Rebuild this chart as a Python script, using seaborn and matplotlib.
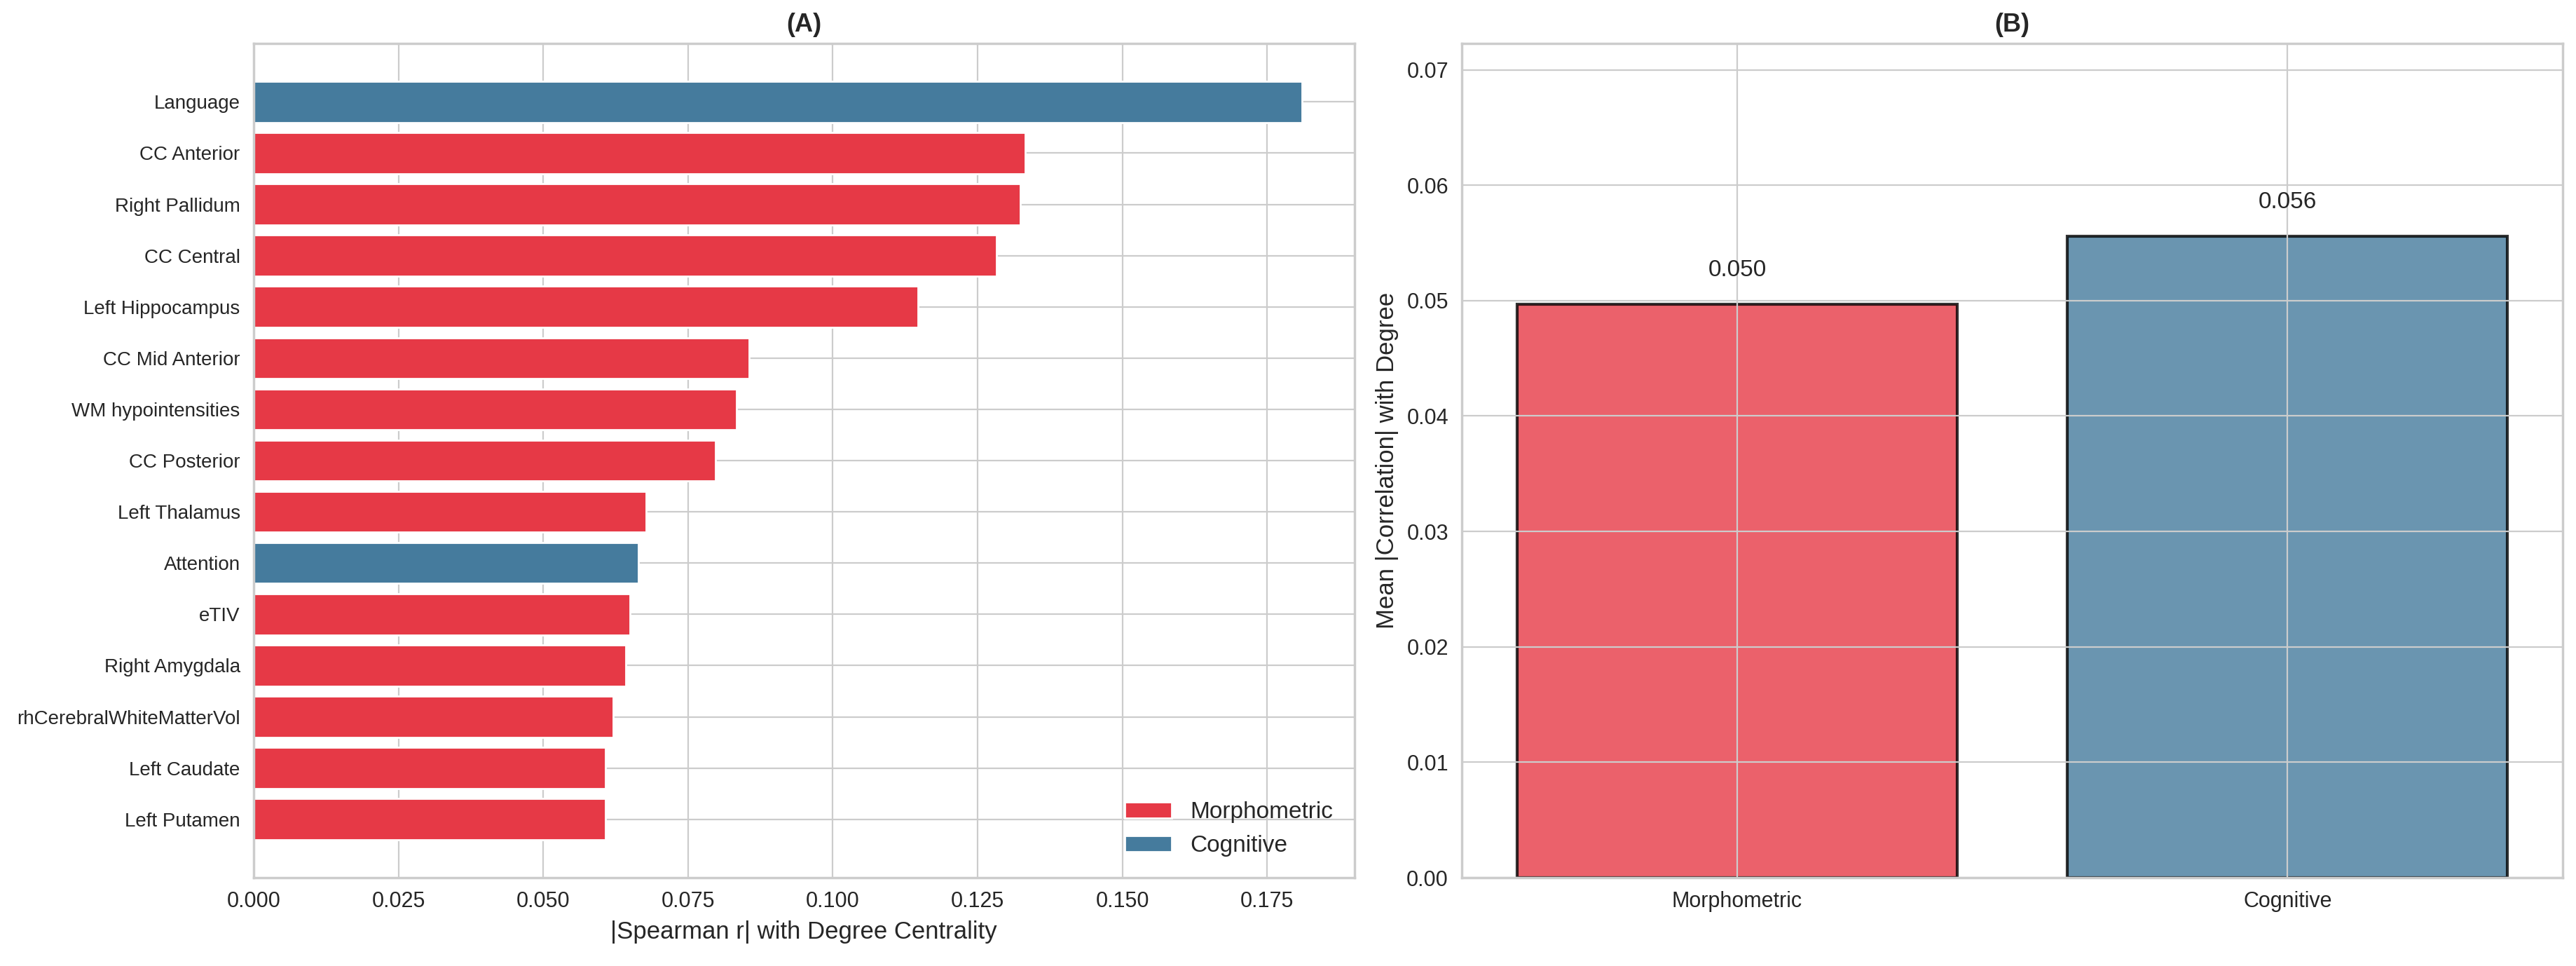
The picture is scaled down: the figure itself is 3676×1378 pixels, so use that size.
import matplotlib
matplotlib.use("Agg")
import matplotlib.pyplot as plt
import numpy as np
import pandas as pd
import seaborn as sns

# Panel A: top features by |Spearman r| with degree centrality
features = [
    "Language", "CC Anterior", "Right Pallidum", "CC Central", "Left Hippocampus",
    "CC Mid Anterior", "WM hypointensities", "CC Posterior", "Left Thalamus",
    "Attention", "eTIV", "Right Amygdala", "rhCerebralWhiteMatterVol",
    "Left Caudate", "Left Putamen",
]
abs_r = [
    0.1810, 0.1332, 0.1324, 0.1283, 0.1147,
    0.0856, 0.0834, 0.0797, 0.0677,
    0.0664, 0.0650, 0.0643, 0.0621,
    0.0608, 0.0608,
]
feature_type = [
    "Cognitive", "Morphometric", "Morphometric", "Morphometric", "Morphometric",
    "Morphometric", "Morphometric", "Morphometric", "Morphometric",
    "Cognitive", "Morphometric", "Morphometric", "Morphometric",
    "Morphometric", "Morphometric",
]

# Panel B: mean |correlation| per group
groups = ["Morphometric", "Cognitive"]
group_means = [0.0497, 0.0556]

colors = {"Morphometric": "#E63946", "Cognitive": "#457B9D"}

sns.set_style("whitegrid")
plt.rcParams["font.family"] = ["Liberation Sans", "DejaVu Sans"]
plt.rcParams["axes.edgecolor"] = "#cccccc"
plt.rcParams["grid.color"] = "#cccccc"
plt.rcParams["axes.linewidth"] = 1.25

df_a = pd.DataFrame({"feature": features, "abs_r": abs_r, "type": feature_type})
df_b = pd.DataFrame({"group": groups, "mean": group_means})

fig, (ax1, ax2) = plt.subplots(1, 2, figsize=(18.38, 6.89))
fig.subplots_adjust(left=0.0985, right=0.9948, bottom=0.0914, top=0.955, wspace=0.098)

# (A)
sns.barplot(
    data=df_a, x="abs_r", y="feature", hue="type",
    hue_order=["Morphometric", "Cognitive"], palette=colors,
    dodge=False, width=0.8, orient="h", ax=ax1, saturation=1,
)
n = len(features)
ax1.set_ylim(n - 1 + 1.14, -1.14)
ax1.grid(True, axis="both")
ax1.set_axisbelow(True)
ax1.set_xlabel("|Spearman r| with Degree Centrality", fontsize=12.5)
ax1.set_ylabel("")
ax1.set_title("(A)", fontsize=13, fontweight="bold")
ax1.tick_params(axis="x", labelsize=11)
ax1.tick_params(axis="y", labelsize=10)
ax1.legend(loc="lower right", fontsize=12, frameon=False)

# (B)
sns.barplot(
    data=df_b, x="group", y="mean", hue="group", palette=colors,
    alpha=0.8, edgecolor="black", linewidth=1.5, width=0.8,
    saturation=1, legend=False, ax=ax2,
)
for i, v in enumerate(group_means):
    ax2.text(i, v + 0.002, f"{v:.3f}", ha="center", va="bottom", fontsize=12)
ax2.set_ylim(0, max(group_means) * 1.3)
ax2.set_xlabel("")
ax2.set_ylabel("Mean |Correlation| with Degree", fontsize=12.5)
ax2.set_title("(B)", fontsize=13, fontweight="bold")
ax2.tick_params(labelsize=11)
ax2.grid(True, axis="both")
ax2.set_axisbelow(False)

fig.savefig("out.png", dpi=200)
